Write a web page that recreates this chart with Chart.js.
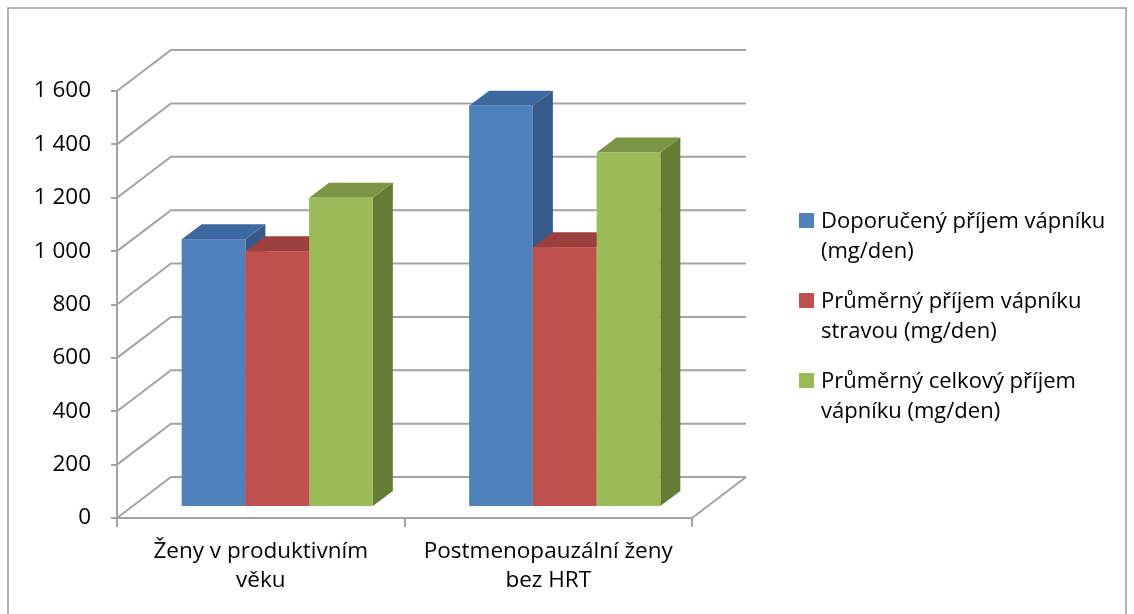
<!DOCTYPE html>
<html>
<head>
<meta charset="utf-8">
<script src="https://cdn.jsdelivr.net/npm/chart.js@4"></script>
<style>
  html, body { margin: 0; padding: 0; background: #fff; }
</style>
</head>
<body>
<canvas id="calcium_chart" width="1134" height="614"></canvas>
<script>
// categories (two-line axis labels)
const groups = [
  ["Ženy v produktivním", "věku"],
  ["Postmenopauzální ženy", "bez HRT"]
];

// series names, already wrapped for the legend
const seriesNames = [
  ["Doporučený příjem vápníku", "(mg/den)"],
  ["Průměrný příjem vápníku", "stravou (mg/den)"],
  ["Průměrný celkový příjem", "vápníku (mg/den)"]
];

// mg/den
const recommended = [1000, 1500];
const dietary = [955, 970];
const total = [1155, 1325];

const yMax = 1600;
const yStep = 200;

// front / top / side shades for each series
const shades = [
  { front: "#4F81BD", top: "#3D69A0", side: "#36598A" },
  { front: "#C0504D", top: "#9C403D", side: "#8E3A37" },
  { front: "#9BBB59", top: "#7A9644", side: "#637C36" }
];

const FONT = '"Open Sans", sans-serif';
const LINE = "#A3A3A3";
const wall = { x: 54, y: -41 };      // depth of the floor / back wall
const barShift = { x: 16.5, y: -12 }; // front face of the bars sits inside the box
const barDepth = { x: 20, y: -15 };

function fmt(v) {
  return String(v).replace(/\B(?=(\d{3})+(?!\d))/g, " ");
}

function poly(ctx, pts, color) {
  ctx.beginPath();
  ctx.moveTo(pts[0][0], pts[0][1]);
  for (let i = 1; i < pts.length; i++) ctx.lineTo(pts[i][0], pts[i][1]);
  ctx.closePath();
  ctx.fillStyle = color;
  ctx.fill();
}

const box3d = {
  id: "box3d",
  beforeDraw(chart) {
    const ctx = chart.ctx;
    ctx.save();
    ctx.fillStyle = "#fff";
    ctx.fillRect(0, 0, chart.width, chart.height);
    ctx.strokeStyle = "#9A9A9A";
    ctx.lineWidth = 1.5;
    ctx.strokeRect(8, 8, chart.width - 16, chart.height + 10);
    ctx.restore();
  },
  beforeDatasetsDraw(chart) {
    const ctx = chart.ctx;
    const area = chart.chartArea;
    const y = chart.scales.y;
    ctx.save();

    // back wall grid lines with their diagonals to the front axis
    ctx.strokeStyle = LINE;
    ctx.lineWidth = 2;
    y.ticks.forEach(t => {
      const py = y.getPixelForValue(t.value);
      ctx.beginPath();
      ctx.moveTo(area.left, py);
      ctx.lineTo(area.left + wall.x, py + wall.y);
      ctx.lineTo(area.right + wall.x, py + wall.y);
      ctx.stroke();
    });
    const y0 = y.getPixelForValue(0);
    ctx.beginPath();
    ctx.moveTo(area.right, y0);
    ctx.lineTo(area.right + wall.x, y0 + wall.y);
    ctx.stroke();

    // bars, painted left to right so each front hides the previous side
    const items = [];
    chart.data.datasets.forEach((ds, i) => {
      chart.getDatasetMeta(i).data.forEach((bar, j) => {
        items.push({ bar: bar.getProps(["x", "width"], true), value: ds.data[j], shade: shades[i] });
      });
    });
    items.sort((a, b) => a.bar.x - b.bar.x);

    items.forEach(({ bar, value, shade }) => {
      const x0 = bar.x - bar.width / 2 + barShift.x;
      const x1 = bar.x + bar.width / 2 + barShift.x;
      const yt = y.getPixelForValue(value) + barShift.y;
      const yb = y0 + barShift.y;
      const dx = barDepth.x, dy = barDepth.y;
      poly(ctx, [[x1, yt], [x1 + dx, yt + dy], [x1 + dx, yb + dy], [x1, yb]], shade.side);
      poly(ctx, [[x0, yt], [x0 + dx, yt + dy], [x1 + dx, yt + dy], [x1, yt]], shade.top);
      ctx.fillStyle = shade.front;
      ctx.fillRect(x0, yt, x1 - x0, yb - yt);
    });

    ctx.restore();
    return false;
  },
  afterDraw(chart) {
    // legend on the right, swatch aligned with the first line
    const ctx = chart.ctx;
    ctx.save();
    ctx.font = "22px " + FONT;
    ctx.textBaseline = "alphabetic";
    chart.data.datasets.forEach((ds, i) => {
      const top = 213 + i * 80;
      ctx.fillStyle = shades[i].front;
      ctx.fillRect(799, top, 15, 15);
      ctx.fillStyle = "#000";
      seriesNames[i].forEach((line, k) => ctx.fillText(line, 821, top + 15 + k * 30));
    });
    ctx.restore();
  }
};

new Chart("calcium_chart", {
  type: "bar",
  data: {
    labels: groups,
    datasets: [
      { label: seriesNames[0].join(" "), data: recommended, backgroundColor: shades[0].front },
      { label: seriesNames[1].join(" "), data: dietary, backgroundColor: shades[1].front },
      { label: seriesNames[2].join(" "), data: total, backgroundColor: shades[2].front }
    ]
  },
  options: {
    responsive: false,
    animation: false,
    events: [],
    devicePixelRatio: 1,
    datasets: { bar: { categoryPercentage: 0.665, barPercentage: 1 } },
    layout: { padding: { top: 91, right: 442, left: 0, bottom: 0 } },
    plugins: { legend: { display: false }, tooltip: { enabled: false } },
    scales: {
      x: {
        offset: true,
        grid: { drawOnChartArea: false, drawTicks: true, tickLength: 9, color: LINE, lineWidth: 2, offset: true },
        border: { display: true, color: LINE, width: 2 },
        ticks: { color: "#000", font: { family: FONT, size: 22.5, lineHeight: 1.28 }, padding: 10, maxRotation: 0, autoSkip: false },
        afterFit(scale) { scale.height = 96; }
      },
      y: {
        min: 0,
        max: yMax,
        grid: { drawOnChartArea: false, drawTicks: true, tickLength: 6, color: LINE, lineWidth: 2 },
        border: { display: true, color: LINE, width: 2 },
        ticks: { stepSize: yStep, color: "#000", font: { family: FONT, size: 22.5 }, padding: 20, callback: fmt },
        afterFit(scale) { scale.width = 117; }
      }
    }
  },
  plugins: [box3d]
});
</script>
</body>
</html>
